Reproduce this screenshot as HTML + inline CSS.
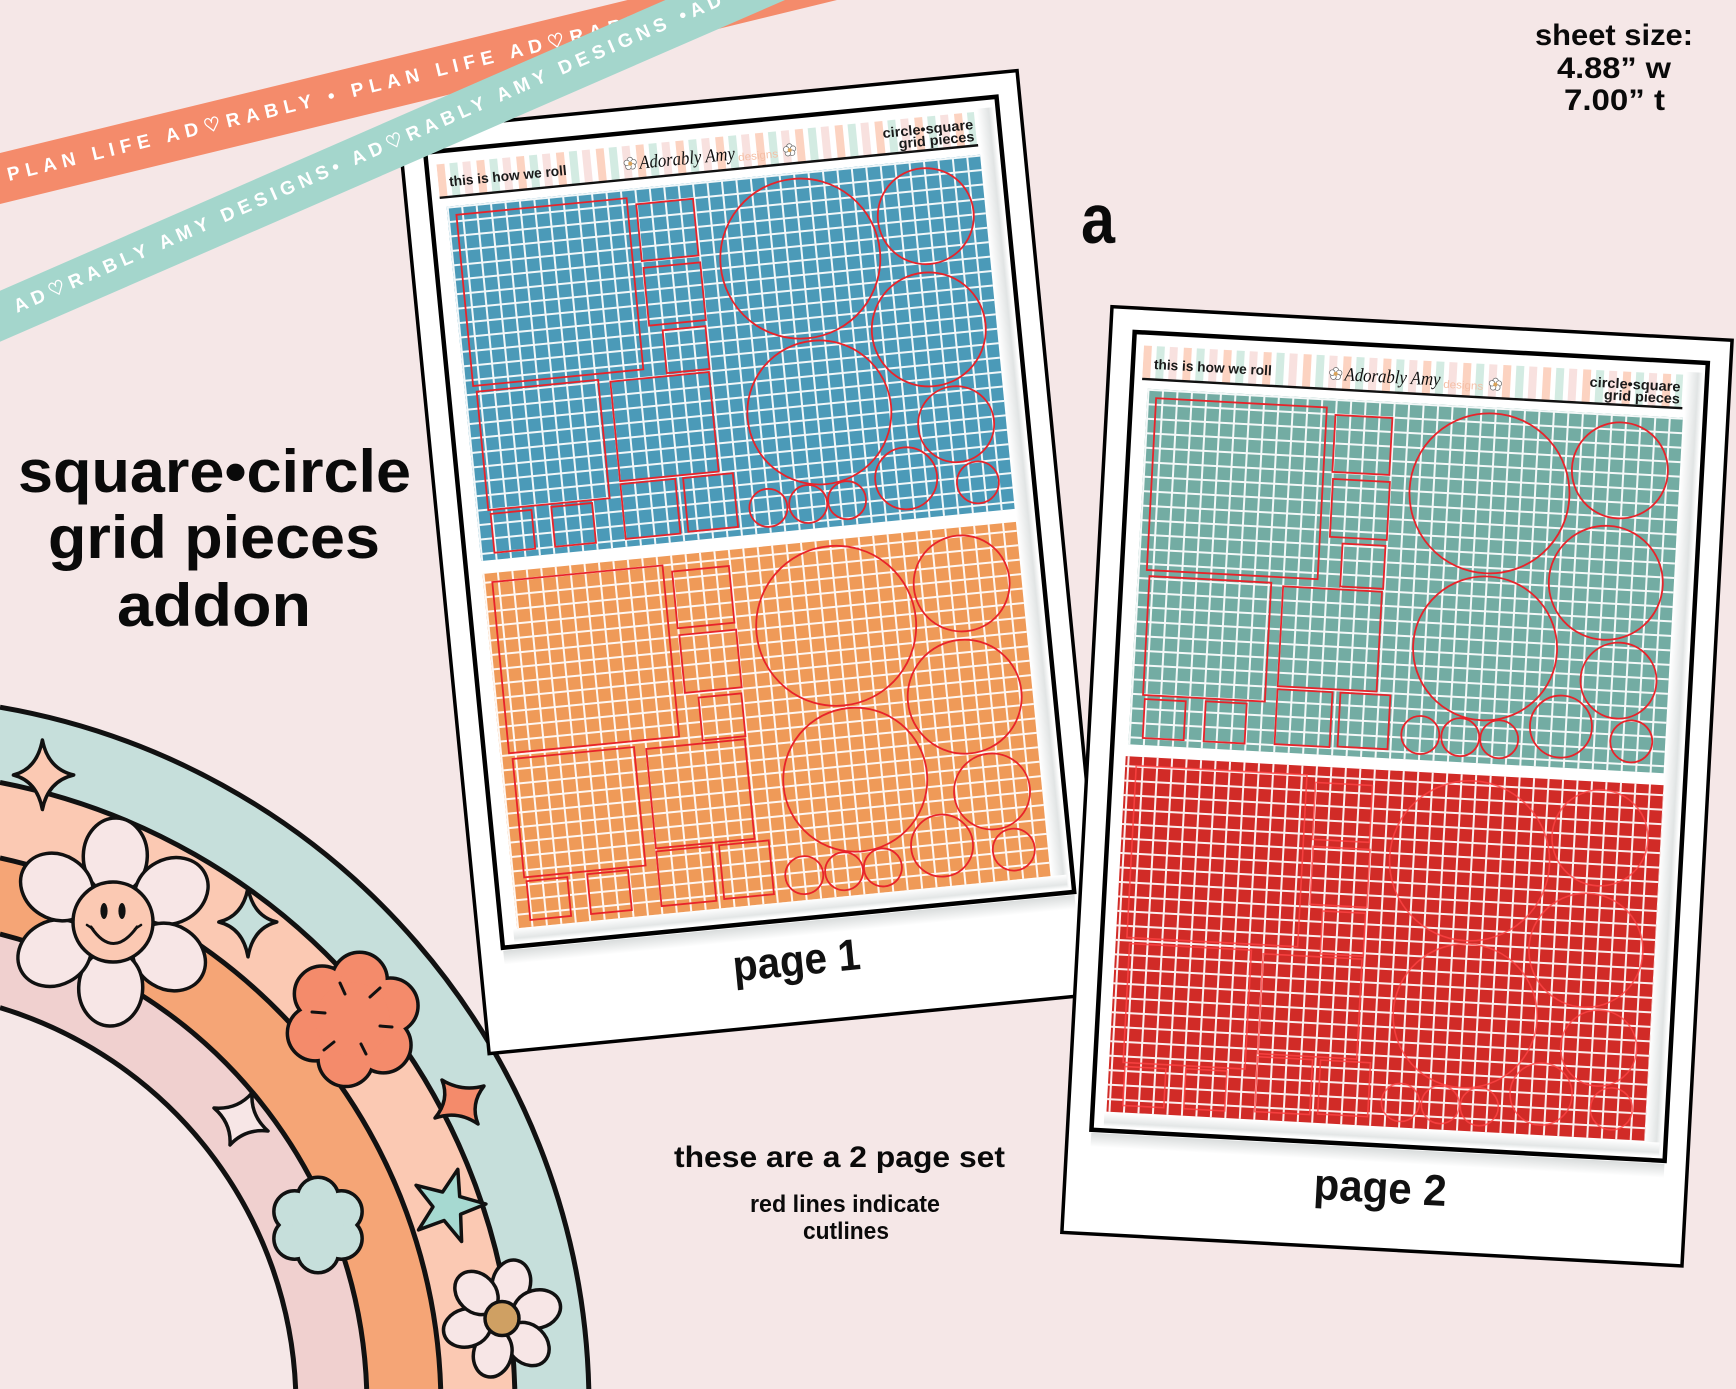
<!DOCTYPE html>
<html>
<head>
<meta charset="utf-8">
<style>
html,body{margin:0;padding:0;background:#f5e7e7;width:1736px;height:1389px;overflow:hidden;}
svg{display:block;overflow:hidden;}
text{font-family:"Liberation Sans",sans-serif;}
</style>
</head>
<body>
<svg xmlns="http://www.w3.org/2000/svg" width="1736" height="1389" viewBox="0 0 1736 1389">
<defs>
  <pattern id="grid" width="14.5" height="14.5" patternUnits="userSpaceOnUse" x="40" y="80">
    <path d="M0 1H14.5M1 0V14.5" stroke="#ffffff" stroke-width="2" fill="none" opacity="0.92"/>
  </pattern>
  <pattern id="stripes" width="40" height="40" patternUnits="userSpaceOnUse" x="34" y="0">
    <rect x="0" y="0" width="8" height="40" fill="#fcd3c1"/>
    <rect x="13" y="0" width="8" height="40" fill="#d3ebe2"/>
    <rect x="26" y="0" width="8" height="40" fill="#f8e1df"/>
  </pattern>
  <linearGradient id="shR" x1="0" y1="0" x2="1" y2="0">
    <stop offset="0" stop-color="#ffffff"/>
    <stop offset="0.7" stop-color="#e1e4e4"/>
    <stop offset="1" stop-color="#ffffff"/>
  </linearGradient>
  <linearGradient id="shB" x1="0" y1="0" x2="0" y2="1">
    <stop offset="0" stop-color="#d9dcdc"/>
    <stop offset="1" stop-color="#ffffff"/>
  </linearGradient>
  <linearGradient id="shB2" x1="0" y1="0" x2="0" y2="1">
    <stop offset="0" stop-color="#ffffff"/>
    <stop offset="0.7" stop-color="#e3e6e6"/>
    <stop offset="1" stop-color="#ffffff"/>
  </linearGradient>

  <g id="cuts" fill="none">
    <rect x="7" y="7" width="171" height="172"/>
    <rect x="187" y="14" width="57" height="57"/>
    <rect x="188" y="78" width="57" height="58"/>
    <rect x="201" y="142" width="43" height="43"/>
    <rect x="10" y="185" width="122" height="119"/>
    <rect x="144" y="188" width="99" height="100"/>
    <rect x="12" y="308" width="41" height="39"/>
    <rect x="73" y="307" width="41" height="40"/>
    <rect x="144" y="291" width="55" height="55"/>
    <rect x="207" y="291" width="50" height="54"/>
    <circle cx="345" cy="84" r="80"/>
    <circle cx="474" cy="54" r="48"/>
    <circle cx="466" cy="167" r="57"/>
    <circle cx="349" cy="239" r="72"/>
    <circle cx="484" cy="264" r="38"/>
    <circle cx="429" cy="313" r="31"/>
    <circle cx="500" cy="324" r="21"/>
    <circle cx="289" cy="329" r="19"/>
    <circle cx="329" cy="329" r="19"/>
    <circle cx="368" cy="329" r="19"/>
  </g>

  <g id="dz">
    <g fill="#ffffff" stroke="#666" stroke-width="0.7">
      <circle cx="0" cy="-3.6" r="2.8"/>
      <circle cx="3.4" cy="-1.1" r="2.8"/>
      <circle cx="2.1" cy="2.9" r="2.8"/>
      <circle cx="-2.1" cy="2.9" r="2.8"/>
      <circle cx="-3.4" cy="-1.1" r="2.8"/>
    </g>
    <circle r="2" fill="#d9a35a"/>
  </g>

  <g id="frame">
    <rect x="0" y="0" width="621" height="927" fill="#ffffff" stroke="#000" stroke-width="3.5"/>
    <rect x="24" y="826" width="574" height="14" fill="url(#shB)"/>
    <rect x="24" y="24" width="574" height="799" fill="#ffffff" stroke="#000" stroke-width="4.5"/>
    <rect x="577" y="34" width="17" height="784" fill="url(#shR)"/>
    <rect x="36" y="805" width="556" height="14" fill="url(#shB2)"/>
    <rect x="34" y="37" width="540" height="33" fill="#ffffff"/>
    <rect x="34" y="37" width="540" height="33" fill="url(#stripes)"/>
    <line x1="34" y1="70.5" x2="575" y2="70.5" stroke="#111" stroke-width="2.4"/>
    <text x="45" y="60" font-size="14" font-weight="bold" fill="#1a1a1a" textLength="118" lengthAdjust="spacingAndGlyphs">this is how we roll</text>
    <use href="#dz" transform="translate(227,55)"/>
    <text x="236" y="61" font-size="19" font-style="italic" fill="#111" textLength="96" lengthAdjust="spacingAndGlyphs" style="font-family:'Liberation Serif',serif">Adorably Amy</text>
    <text x="335" y="63" font-size="11" fill="#f5bfa6" textLength="40" lengthAdjust="spacingAndGlyphs">designs</text>
    <use href="#dz" transform="translate(387,57)"/>
    <text x="481" y="54" font-size="14" font-weight="bold" fill="#1a1a1a" textLength="91" lengthAdjust="spacingAndGlyphs">circle•square</text>
    <text x="496" y="66" font-size="14" font-weight="bold" fill="#1a1a1a" textLength="76" lengthAdjust="spacingAndGlyphs">grid pieces</text>
  </g>
</defs>

<!-- background -->
<rect x="0" y="0" width="1736" height="1389" fill="#f5e7e7"/>

<!-- rainbow (bands clipped to canvas) -->
<g stroke="none">
  <path d="M0,707.2 A709,709 0 0 1 588.8,1389 L0,1389 Z" fill="#c6dfdb"/>
  <path d="M0,782.4 A635,635 0 0 1 514.8,1389 L0,1389 Z" fill="#fbc9b3"/>
  <path d="M0,858 A561,561 0 0 1 440.7,1389 L0,1389 Z" fill="#f5a576"/>
  <path d="M0,934 A487,487 0 0 1 366.7,1389 L0,1389 Z" fill="#f0d0cf"/>
  <path d="M0,1007.7 A416,416 0 0 1 295.65,1389 L0,1389 Z" fill="#f5e7e7"/>
</g>
<g fill="none" stroke="#111" stroke-width="5">
  <path d="M0,707.2 A709,709 0 0 1 588.8,1389"/>
  <path d="M0,782.4 A635,635 0 0 1 514.8,1389"/>
  <path d="M0,858 A561,561 0 0 1 440.7,1389"/>
  <path d="M0,934 A487,487 0 0 1 366.7,1389"/>
  <path d="M0,1007.7 A416,416 0 0 1 295.65,1389"/>
</g>

<!-- rainbow decorations -->
<g stroke="#111" stroke-width="3.5" stroke-linejoin="round">
  <path d="M42.4,740 Q48,769 73.7,775 Q48,781 42.4,809.5 Q37,781 13.4,775 Q37,769 42.4,740 Z" fill="#fbc9b3"/>
  <path d="M248,887.7 Q253,916 276.8,922 Q253,928 248,956.8 Q243,928 218.8,922 Q243,916 248,887.7 Z" fill="#c6dfdb"/>
  <g fill="#f7e6e6">
    <ellipse cx="115.3" cy="856" rx="38" ry="32" transform="rotate(-88 115.3 856)"/>
    <ellipse cx="171.3" cy="891" rx="38" ry="32" transform="rotate(-28 171.3 891)"/>
    <ellipse cx="169" cy="957" rx="38" ry="32" transform="rotate(32 169 957)"/>
    <ellipse cx="110.7" cy="988" rx="38" ry="32" transform="rotate(92 110.7 988)"/>
    <ellipse cx="54.7" cy="953" rx="38" ry="32" transform="rotate(152 54.7 953)"/>
    <ellipse cx="57" cy="887" rx="38" ry="32" transform="rotate(212 57 887)"/>
  </g>
  <circle cx="113" cy="922" r="40" fill="#fbc9b3"/>
  <g fill="#f48b6b" stroke-width="7">
    <circle cx="359.6" cy="980" r="26"/>
    <circle cx="390.3" cy="1005.7" r="26"/>
    <circle cx="383.3" cy="1045.1" r="26"/>
    <circle cx="345.8" cy="1058.8" r="26"/>
    <circle cx="315.1" cy="1033.1" r="26"/>
    <circle cx="322.1" cy="993.7" r="26"/>
  </g>
  <g fill="#f48b6b" stroke="none">
    <circle cx="359.6" cy="980" r="26"/>
    <circle cx="390.3" cy="1005.7" r="26"/>
    <circle cx="383.3" cy="1045.1" r="26"/>
    <circle cx="345.8" cy="1058.8" r="26"/>
    <circle cx="315.1" cy="1033.1" r="26"/>
    <circle cx="322.1" cy="993.7" r="26"/>
    <circle cx="352.7" cy="1019.4" r="37"/>
  </g>
  <g stroke-width="3" stroke-linecap="round">
    <line x1="340" y1="983" x2="345" y2="994"/>
    <line x1="380" y1="988" x2="370" y2="997"/>
    <line x1="392" y1="1027" x2="380" y2="1026"/>
    <line x1="366" y1="1054" x2="361" y2="1044"/>
    <line x1="324" y1="1050" x2="334" y2="1042"/>
    <line x1="312" y1="1012" x2="325" y2="1013"/>
  </g>
  <path d="M442,1080 Q461.5,1092 484,1086 Q470,1104 478,1124 Q458,1110 435,1118 Q450,1100 442,1080 Z" fill="#f48b6b"/>
  <path d="M214,1108 Q237,1110 252,1093 Q250.5,1115.5 268,1131 Q245,1128.5 230,1145 Q231.5,1123 214,1108 Z" fill="#f7e6e6"/>
  <g fill="#c6dfdb" stroke-width="7">
    <circle cx="318" cy="1198" r="19"/>
    <circle cx="341.4" cy="1211.5" r="19"/>
    <circle cx="341.4" cy="1238.5" r="19"/>
    <circle cx="318" cy="1252" r="19"/>
    <circle cx="294.6" cy="1238.5" r="19"/>
    <circle cx="294.6" cy="1211.5" r="19"/>
  </g>
  <g fill="#c6dfdb" stroke="none">
    <circle cx="318" cy="1198" r="19"/>
    <circle cx="341.4" cy="1211.5" r="19"/>
    <circle cx="341.4" cy="1238.5" r="19"/>
    <circle cx="318" cy="1252" r="19"/>
    <circle cx="294.6" cy="1238.5" r="19"/>
    <circle cx="294.6" cy="1211.5" r="19"/>
    <circle cx="318" cy="1225" r="26"/>
  </g>
  <path d="M457.8,1169.3 L459.7,1196.6 L485.9,1204 L460.6,1214.2 L461.6,1241.5 L444.1,1220.5 L418.5,1229.9 L433,1206.8 L416.1,1185.3 L442.6,1192 Z" fill="#a6d9d1"/>
  <g fill="#f7e6e6">
    <ellipse cx="511.3" cy="1283.7" rx="24" ry="19" transform="rotate(-75 511.3 1283.7)"/>
    <ellipse cx="536.8" cy="1309.2" rx="24" ry="19" transform="rotate(-15 536.8 1309.2)"/>
    <ellipse cx="527.5" cy="1344" rx="24" ry="19" transform="rotate(45 527.5 1344)"/>
    <ellipse cx="492.7" cy="1353.3" rx="24" ry="19" transform="rotate(105 492.7 1353.3)"/>
    <ellipse cx="467.2" cy="1327.8" rx="24" ry="19" transform="rotate(165 467.2 1327.8)"/>
    <ellipse cx="476.5" cy="1293" rx="24" ry="19" transform="rotate(225 476.5 1293)"/>
  </g>
  <circle cx="502" cy="1318.5" r="17" fill="#cfa063"/>
</g>
<ellipse cx="104" cy="911" rx="3.6" ry="8" fill="#111"/>
<ellipse cx="122" cy="911" rx="3.6" ry="8" fill="#111"/>
<path d="M91,927 Q113,960 137,927" fill="none" stroke="#111" stroke-width="3" stroke-linecap="round"/>
<path d="M87,925 L93,929 M141,925 L135,929" fill="none" stroke="#111" stroke-width="2.5" stroke-linecap="round"/>

<!-- CARD 1 -->
<g transform="translate(399,131) rotate(-5.58)">
  <use href="#frame"/>
  <rect x="40" y="80" width="536" height="356" fill="#4b9ab8"/>
  <rect x="40" y="80" width="536" height="356" fill="url(#grid)"/>
  <use href="#cuts" transform="translate(42,82)" stroke="#e8232a" stroke-width="1.8"/>
  <rect x="40" y="449" width="536" height="356" fill="#ef9a58"/>
  <rect x="40" y="449" width="536" height="356" fill="url(#grid)"/>
  <use href="#cuts" transform="translate(42,451)" stroke="#e8232a" stroke-width="1.8"/>
  <text x="251" y="879" font-size="44" font-weight="bold" fill="#111" textLength="128" lengthAdjust="spacingAndGlyphs">page 1</text>
</g>

<!-- CARD 2 -->
<g transform="translate(1112,306.7) rotate(3.1)">
  <use href="#frame"/>
  <rect x="40" y="80" width="536" height="356" fill="#73aca3"/>
  <rect x="40" y="80" width="536" height="356" fill="url(#grid)"/>
  <use href="#cuts" transform="translate(42,82)" stroke="#e8232a" stroke-width="1.8"/>
  <rect x="38" y="448" width="539" height="356" fill="#d12b27"/>
  <rect x="38" y="448" width="539" height="356" fill="url(#grid)"/>
  <use href="#cuts" transform="translate(42,450)" stroke="#ff4545" stroke-width="1.6" opacity="0.8"/>
  <text x="249" y="880" font-size="44" font-weight="bold" fill="#111" textLength="133" lengthAdjust="spacingAndGlyphs">page 2</text>
</g>

<!-- ribbons -->
<polygon points="0,153 627.6,0 837,0 0,204" fill="#f48b6b"/>
<text transform="translate(9,181) rotate(-13.7)" font-size="19" font-weight="bold" fill="#ffffff" letter-spacing="6">PLAN LIFE AD♡RABLY • PLAN LIFE AD♡RABLY • PLAN LIFE</text>
<polygon points="0,290.8 665.4,0 785,0 0,341.8" fill="#a4d6cc"/>
<text transform="translate(17,313) rotate(-23.6)" font-size="19" font-weight="bold" fill="#ffffff" letter-spacing="5.1">AD♡RABLY AMY DESIGNS• AD♡RABLY AMY DESIGNS •AD♡RABLY</text>

<!-- title -->
<text x="18" y="492" font-size="60" font-weight="bold" fill="#0a0a0a" textLength="393" lengthAdjust="spacingAndGlyphs">square•circle</text>
<text x="48" y="558" font-size="60" font-weight="bold" fill="#0a0a0a" textLength="332" lengthAdjust="spacingAndGlyphs">grid pieces</text>
<text x="117" y="626" font-size="60" font-weight="bold" fill="#0a0a0a" textLength="194" lengthAdjust="spacingAndGlyphs">addon</text>

<!-- sheet size -->
<text x="1535" y="45" font-size="30" font-weight="bold" fill="#0a0a0a" textLength="158" lengthAdjust="spacingAndGlyphs">sheet size:</text>
<text x="1557" y="78" font-size="30" font-weight="bold" fill="#0a0a0a" textLength="114" lengthAdjust="spacingAndGlyphs">4.88” w</text>
<text x="1564" y="110" font-size="30" font-weight="bold" fill="#0a0a0a" textLength="101" lengthAdjust="spacingAndGlyphs">7.00” t</text>

<text x="1081" y="243" font-size="70" font-weight="bold" fill="#0a0a0a" textLength="34" lengthAdjust="spacingAndGlyphs">a</text>

<text x="674" y="1167" font-size="30" font-weight="bold" fill="#0a0a0a" textLength="331" lengthAdjust="spacingAndGlyphs">these are a 2 page set</text>
<text x="750" y="1212" font-size="24" font-weight="bold" fill="#0a0a0a" textLength="190" lengthAdjust="spacingAndGlyphs">red lines indicate</text>
<text x="803" y="1239" font-size="24" font-weight="bold" fill="#0a0a0a" textLength="86" lengthAdjust="spacingAndGlyphs">cutlines</text>
</svg>
</body>
</html>
